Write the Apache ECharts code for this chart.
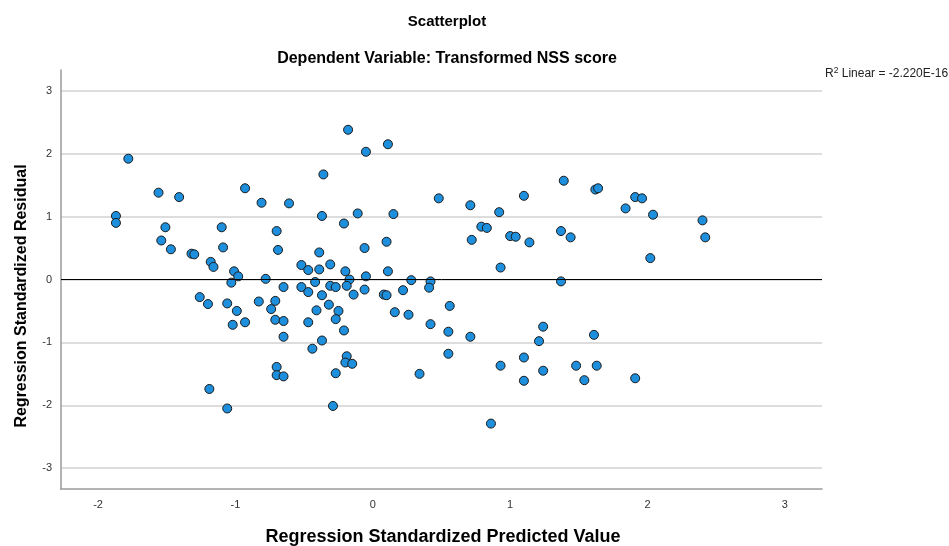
<!DOCTYPE html>
<html lang="en">
<head>
	<meta charset="UTF-8">
	<title>Scatterplot - Transformed NSS score</title>
	<script src="https://cdn.jsdelivr.net/npm/echarts@6/dist/echarts.min.js"></script>
	<style>
		html, body { margin: 0; padding: 0; background: #fff; }
	</style>
</head>
<body>
	<div id="main" style="width: 949px; height: 546px;"></div>
	<script>
		// predicted values (x) and residuals (y)
		var predicted = [
			-1.78, -1.87, -1.87, -1.56, -1.41, -1.51, -1.54, -1.47, -1.32, -1.30,
			-0.93, -1.10, -1.09, -1.18, -1.16, -1.01, -0.98, -1.03, -0.81, -0.61,
			-0.70, -0.69, -0.78, -0.65, -0.52, -0.36, -0.18, -0.05, -0.37, -0.11,
			-0.21, -0.06, -0.39, -0.52, -0.47, -0.39, -0.31, -0.20, -0.17, -0.05,
			-0.42, -0.31, -0.27, -0.19, -0.06, 0.11, 0.15, 0.10, 0.11, 0.28,
			0.42, 0.41, 0.22, 0.48, 0.71, 0.72, 0.79, 0.83, 0.92, 0.93,
			1.00, 1.04, 1.10, 1.14, 1.39, 1.37, 1.44, 1.37, 1.62, 1.64,
			1.84, 1.91, 1.96, 2.04, 2.02, 2.40, 2.42, -1.26, -1.20, -1.06,
			-0.99, -1.02, -0.93, -0.83, -0.71, -0.74, -0.71, -0.65, -0.65, -1.19,
			-1.06, -0.70, -0.70, -0.65, -0.47, -0.37, -0.14, -0.32, -0.25, -0.41,
			-0.47, -0.27, -0.21, -0.37, -0.44, -0.19, -0.20, -0.15, -0.27, -0.29,
			0.08, 0.10, 0.16, 0.26, 0.56, 0.42, 0.55, 0.71, 0.55, 0.34,
			0.86, 0.93, 1.10, 1.10, 1.24, 1.24, 1.21, 1.48, 1.54, 1.61,
			1.63, 1.91
		]
		var residual = [
			1.92, 1.01, 0.90, 1.38, 1.31, 0.83, 0.62, 0.48, 0.41, 0.40,
			1.45, 0.83, 0.51, 0.28, 0.20, 0.13, 0.05, -0.05, 1.22, 1.21,
			0.77, 0.47, 0.01, -0.12, -0.12, 1.67, 2.38, 2.03, 1.01, 1.05,
			0.89, 0.50, 0.43, 0.23, 0.15, 0.16, 0.24, 0.13, 0.00, 0.05,
			-0.04, -0.10, -0.12, -0.10, -0.16, 2.15, 1.04, 0.60, 0.13, -0.01,
			-0.03, -0.13, -0.17, 1.29, 1.18, 0.63, 0.84, 0.82, 1.07, 0.19,
			0.69, 0.68, 1.33, 0.59, 1.57, 0.77, 0.67, -0.03, 1.43, 1.45,
			1.13, 1.31, 1.29, 1.03, 0.34, 0.94, 0.67, -0.28, -0.39, -0.38,
			-0.50, -0.72, -0.68, -0.35, -0.34, -0.47, -0.64, -0.66, -0.91, -1.74,
			-2.05, -1.39, -1.52, -1.54, -0.20, -0.25, -0.24, -0.40, -0.50, -0.49,
			-0.68, -0.63, -0.81, -0.97, -1.10, -1.22, -1.32, -1.34, -1.49, -2.01,
			-0.24, -0.25, -0.52, -0.56, -0.42, -0.71, -0.83, -0.91, -1.18, -1.50,
			-2.29, -1.37, -1.24, -1.61, -1.45, -0.75, -0.98, -1.37, -1.60, -0.88,
			-1.37, -1.57
		]
		var xRange = [-2.27, 3.27]
		var yRange = [-3.33, 3.33]
		var fitLineValue = 0
		var r2Text = 'Linear = -2.220E-16'

		var points = []
		for (var i = 0; i < predicted.length; i++) {
			points.push([predicted[i], residual[i]])
		}

		// only whole numbers get a label, the ends of the range stay blank
		function intLabel (v) {
			return Math.abs(v - Math.round(v)) < 1e-6 ? String(Math.round(v)) : ''
		}

		const myChart = echarts.init(document.getElementById('main'))
		const font = 'Liberation Sans, Arial, sans-serif'

		option = {
			animation: false,
			backgroundColor: '#fff',
			title: [
				{
					text: 'Scatterplot',
					left: 442,
					textAlign: 'center',
					top: 9,
					textStyle: {fontFamily: font, fontSize: 15, fontWeight: 'bold', color: '#000'}
				},
				{
					text: 'Dependent Variable: Transformed NSS score',
					left: 442,
					textAlign: 'center',
					top: 46,
					textStyle: {fontFamily: font, fontSize: 16, fontWeight: 'bold', color: '#000'}
				},
				{
					text: '{n|R}{s|2}{n| ' + r2Text + '}',
					left: 825,
					top: 66,
					padding: 0,
					textStyle: {
						fontWeight: 'normal',
						rich: {
							n: {fontFamily: font, fontSize: 12, fontWeight: 'normal', color: '#222'},
							s: {fontFamily: font, fontSize: 8.5, fontWeight: 'normal', color: '#222', padding: [0, 0, 6, 0]}
						}
					}
				}
			],
			graphic: [
				{
					type: 'text',
					x: 443,
					y: 537,
					style: {
						text: 'Regression Standardized Predicted Value',
						x: 0,
						y: 0,
						align: 'center',
						verticalAlign: 'middle',
						font: 'bold 18px ' + font,
						fill: '#000'
					}
				},
				{
					type: 'text',
					x: 22,
					y: 296,
					rotation: Math.PI / 2,
					style: {
						text: 'Regression Standardized Residual',
						x: 0,
						y: 0,
						align: 'center',
						verticalAlign: 'middle',
						font: 'bold 16px ' + font,
						fill: '#000'
					}
				}
			],
			grid: {
				left: 61,
				right: 127,
				top: 70,
				bottom: 57
			},
			xAxis: {
				type: 'value',
				min: xRange[0],
				max: xRange[1],
				splitNumber: 5,
				axisLine: {onZero: false, lineStyle: {color: '#9a9a9a', width: 1.5}},
				axisTick: {show: false},
				axisLabel: {fontFamily: font, fontSize: 11, color: '#333', margin: 10, formatter: intLabel},
				splitLine: {show: false}
			},
			yAxis: {
				type: 'value',
				min: yRange[0],
				max: yRange[1],
				splitNumber: 6,
				axisLine: {onZero: false, lineStyle: {color: '#9a9a9a', width: 1.5}},
				axisTick: {show: false},
				axisLabel: {fontFamily: font, fontSize: 11, color: '#333', margin: 9, formatter: intLabel},
				splitLine: {
					show: true,
					showMinLine: false,
					showMaxLine: false,
					lineStyle: {color: '#d2d2d2', width: 1.5}
				}
			},
			series: [
				{
					type: 'scatter',
					data: points,
					symbolSize: 9,
					itemStyle: {color: '#1e8fdc', borderColor: '#1a1a1a', borderWidth: 1, opacity: 1},
					markLine: {
						silent: true,
						symbol: ['none', 'none'],
						label: {show: false},
						lineStyle: {color: '#000', width: 1, type: 'solid'},
						data: [{yAxis: fitLineValue}]
					},
					z: 3
				}
			]
		}
		myChart.setOption(option)
	</script>
</body>
</html>
